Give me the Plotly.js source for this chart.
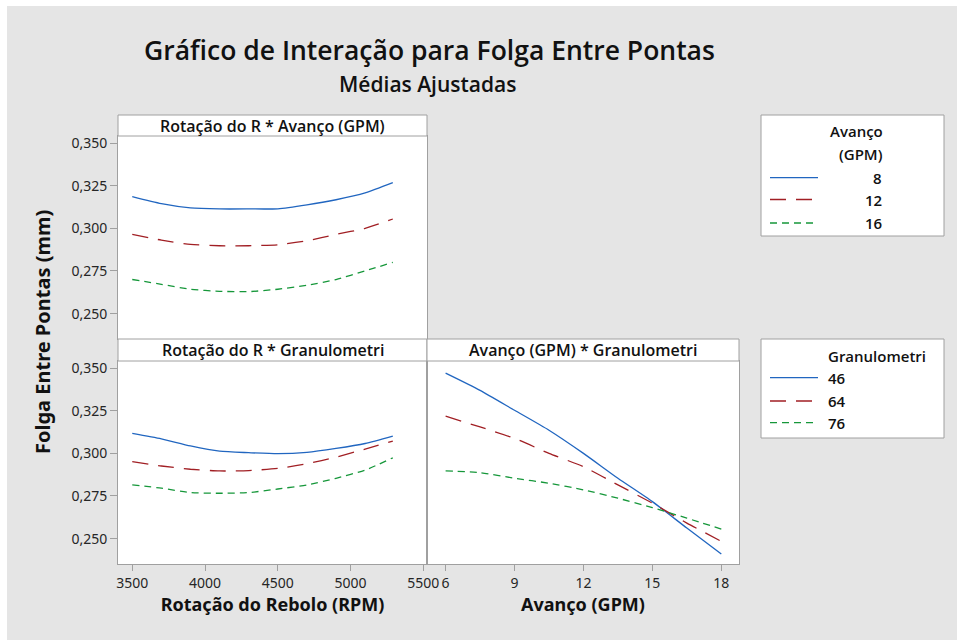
<!DOCTYPE html>
<html>
<head>
<meta charset="utf-8">
<script src="https://cdn.plot.ly/plotly-3.0.1.min.js"></script>
<style>
  html, body { margin: 0; padding: 0; background: #ffffff; width: 957px; height: 640px; overflow: hidden; }
  #chart { position: absolute; left: 7px; top: 6px; width: 950px; height: 634px; }
</style>
</head>
<body>
<div id="chart"></div>
<script>
// ---------------- DATA ----------------
const mainTitle = 'Gráfico de Interação para Folga Entre Pontas';
const subTitle = 'Médias Ajustadas';
const yTitle = 'Folga Entre Pontas (mm)';
const xTitleRot = 'Rotação do Rebolo (RPM)';
const xTitleAv = 'Avanço (GPM)';
const panelTitles = ['Rotação do R * Avanço (GPM)', 'Rotação do R * Granulometri', 'Avanço (GPM) * Granulometri'];

const avancoLegendTitle = ['Avanço', '(GPM)'];
const avancoLevels = ['8', '12', '16'];
const granLegendTitle = 'Granulometri';
const granLevels = ['46', '64', '76'];

// Rotação do Rebolo (RPM) values
const rotX = [3500, 3700, 3900, 4100, 4300, 4500, 4700, 4900, 5100, 5290];
// Rotação * Avanço
const rotAv8  = [0.3186, 0.3145, 0.3120, 0.3114, 0.3114, 0.3115, 0.3138, 0.3168, 0.3208, 0.3268];
const rotAv12 = [0.2965, 0.2931, 0.2906, 0.2898, 0.2898, 0.2904, 0.2927, 0.2965, 0.3000, 0.3055];
const rotAv16 = [0.2700, 0.2672, 0.2643, 0.2631, 0.2629, 0.2643, 0.2666, 0.2700, 0.2751, 0.2800];
// Rotação * Granulometri
const rotGr46 = [0.3117, 0.3085, 0.3044, 0.3013, 0.3004, 0.2998, 0.3006, 0.3029, 0.3058, 0.3101];
const rotGr64 = [0.2951, 0.2926, 0.2907, 0.2897, 0.2899, 0.2912, 0.2939, 0.2978, 0.3025, 0.3072];
const rotGr76 = [0.2815, 0.2796, 0.2770, 0.2766, 0.2770, 0.2791, 0.2815, 0.2854, 0.2902, 0.2974];

// Avanço (GPM) values
const avX = [6, 7.5, 9, 10.5, 12, 13.5, 15, 16.5, 18];
// Avanço * Granulometri
const avGr46 = [0.3471, 0.3370, 0.3253, 0.3136, 0.3000, 0.2854, 0.2717, 0.2562, 0.2410];
const avGr64 = [0.3218, 0.3155, 0.3088, 0.3000, 0.2922, 0.2815, 0.2708, 0.2591, 0.2484];
const avGr76 = [0.2897, 0.2887, 0.2854, 0.2825, 0.2786, 0.2737, 0.2682, 0.2620, 0.2556];

const yTicks = [0.250, 0.275, 0.300, 0.325, 0.350];
const rotTicks = [3500, 4000, 4500, 5000, 5500];
const avTicks = [6, 9, 12, 15, 18];

// ---------------- STYLE / LAYOUT ----------------
const W = 950, H = 634, OX = 7, OY = 6;
const px = x => (x - OX) / W;          // page pixel -> paper x
const py = y => 1 - (y - OY) / H;      // page pixel -> paper y

const FONT = '"Noto Sans", "Open Sans", sans-serif';
const SEMI = '"Open Sans", "Noto Sans", sans-serif';
const colors = ['#2166c0', '#a11f24', '#16973a'];
const dashes = ['solid', '16px,10px', '7px,5px'];
const LW = 1.3;
const BORDER = '#a0a0a0';

function line(x, y, i, xa, ya) {
  return { x: x, y: y, xaxis: xa, yaxis: ya, type: 'scatter', mode: 'lines',
    line: { color: colors[i], width: LW, dash: dashes[i], shape: 'spline', smoothing: 0.6 },
    showlegend: false, hoverinfo: 'skip' };
}

const data = [
  line(rotX, rotAv8, 0, 'x', 'y'),
  line(rotX, rotAv12, 1, 'x', 'y'),
  line(rotX, rotAv16, 2, 'x', 'y'),
  line(rotX, rotGr46, 0, 'x2', 'y2'),
  line(rotX, rotGr64, 1, 'x2', 'y2'),
  line(rotX, rotGr76, 2, 'x2', 'y2'),
  line(avX, avGr46, 0, 'x3', 'y3'),
  line(avX, avGr64, 1, 'x3', 'y3'),
  line(avX, avGr76, 2, 'x3', 'y3'),
];

// panel geometry (page pixels)
const L1 = 118, R1 = 427, R2 = 739;
const topStrip = 115, topData = 136, topBot = 339;
const botStrip = 339, botData = 361, botBot = 564;
const yRange = [0.2351, 0.3542];

const tickFont = { family: FONT, size: 14, color: '#262626' };
const baseAxis = {
  showgrid: false, zeroline: false, showline: true, mirror: true,
  linecolor: BORDER, linewidth: 1, ticks: 'outside', ticklen: 6, tickcolor: BORDER,
  tickfont: tickFont, fixedrange: true
};

const layout = {
  width: W, height: H,
  margin: { l: 0, r: 0, t: 0, b: 0 },
  paper_bgcolor: '#e5e5e5',
  plot_bgcolor: '#ffffff',
  separators: ',.',
  showlegend: false,
  font: { family: FONT, color: '#111' },
  xaxis: Object.assign({}, baseAxis, {
    domain: [px(L1), px(R1)], anchor: 'y', range: [3402, 5525],
    showticklabels: false, ticks: '', tickvals: rotTicks
  }),
  yaxis: Object.assign({}, baseAxis, {
    domain: [py(topBot), py(topData)], anchor: 'x', range: yRange,
    tickvals: yTicks, tickformat: '.3f', ticklen: 7
  }),
  xaxis2: Object.assign({}, baseAxis, {
    domain: [px(L1), px(R1)], anchor: 'y2', range: [3402, 5525],
    tickvals: rotTicks, tickformat: 'd',
    title: { text: xTitleRot, font: { family: FONT, size: 18, color: '#111', weight: 'bold' }, standoff: 6 }
  }),
  yaxis2: Object.assign({}, baseAxis, {
    domain: [py(botBot), py(botData)], anchor: 'x2', range: yRange,
    tickvals: yTicks, tickformat: '.3f', ticklen: 7
  }),
  xaxis3: Object.assign({}, baseAxis, {
    domain: [px(R1), px(R2)], anchor: 'y3', range: [5.19, 18.77],
    tickvals: avTicks, tickformat: 'd',
    title: { text: xTitleAv, font: { family: FONT, size: 18, color: '#111', weight: 'bold' }, standoff: 6 }
  }),
  yaxis3: Object.assign({}, baseAxis, {
    domain: [py(botBot), py(botData)], anchor: 'x3', range: yRange,
    showticklabels: false, ticks: ''
  }),
  shapes: [],
  annotations: []
};

// panel strips
const strips = [
  [L1, R1, topStrip, topData],
  [L1, R1, botStrip, botData],
  [R1, R2, botStrip, botData]
];
strips.forEach((s, i) => {
  layout.shapes.push({ type: 'rect', xref: 'paper', yref: 'paper',
    x0: px(s[0]), x1: px(s[1]), y0: py(s[3]), y1: py(s[2]),
    fillcolor: '#ffffff', line: { color: BORDER, width: 1 } });
  layout.annotations.push({ xref: 'paper', yref: 'paper',
    x: px((s[0] + s[1]) / 2), y: py((s[2] + s[3]) / 2 + 0.5), xanchor: 'center', yanchor: 'middle',
    text: panelTitles[i], showarrow: false, font: { family: SEMI, size: 16, color: '#111', weight: 600 } });
});

// titles
layout.annotations.push({ xref: 'paper', yref: 'paper', x: px(429), y: py(50), xanchor: 'center', yanchor: 'middle',
  text: mainTitle, showarrow: false, font: { family: SEMI, size: 26.5, color: '#111', weight: 600 } });
layout.annotations.push({ xref: 'paper', yref: 'paper', x: px(428), y: py(84), xanchor: 'center', yanchor: 'middle',
  text: subTitle, showarrow: false, font: { family: SEMI, size: 21, color: '#111', weight: 600 } });
layout.annotations.push({ xref: 'paper', yref: 'paper', x: px(42), y: py(332), xanchor: 'center', yanchor: 'middle',
  text: yTitle, textangle: -90, showarrow: false, font: { family: FONT, size: 20, color: '#111', weight: 'bold' } });

// legends (boxes)
const legBoxes = [[761, 944, 115, 236], [761, 944, 339, 438]];
legBoxes.forEach(b => {
  layout.shapes.push({ type: 'rect', xref: 'paper', yref: 'paper',
    x0: px(b[0]), x1: px(b[1]), y0: py(b[3]), y1: py(b[2]),
    fillcolor: '#ffffff', line: { color: BORDER, width: 1 } });
});
const legFont = { family: SEMI, size: 15, color: '#111', weight: 600 };
// legend 1: Avanço
layout.annotations.push({ xref: 'paper', yref: 'paper', x: px(885), y: py(131), xanchor: 'right', yanchor: 'middle',
  text: avancoLegendTitle[0], showarrow: false, font: legFont });
layout.annotations.push({ xref: 'paper', yref: 'paper', x: px(885), y: py(153.5), xanchor: 'right', yanchor: 'middle',
  text: avancoLegendTitle[1], showarrow: false, font: legFont });
const leg1Y = [177.7, 199.5, 223];
avancoLevels.forEach((lv, i) => {
  layout.shapes.push({ type: 'line', xref: 'paper', yref: 'paper',
    x0: px(770), x1: px(818), y0: py(leg1Y[i]), y1: py(leg1Y[i]),
    line: { color: colors[i], width: LW, dash: dashes[i] } });
  layout.annotations.push({ xref: 'paper', yref: 'paper', x: px(884), y: py(leg1Y[i]), xanchor: 'right', yanchor: 'middle',
    text: lv, showarrow: false, font: legFont });
});
// legend 2: Granulometri
layout.annotations.push({ xref: 'paper', yref: 'paper', x: px(826), y: py(355.7), xanchor: 'left', yanchor: 'middle',
  text: granLegendTitle, showarrow: false, font: legFont });
const leg2Y = [377.7, 401, 422.7];
granLevels.forEach((lv, i) => {
  layout.shapes.push({ type: 'line', xref: 'paper', yref: 'paper',
    x0: px(770), x1: px(818), y0: py(leg2Y[i]), y1: py(leg2Y[i]),
    line: { color: colors[i], width: LW, dash: dashes[i] } });
  layout.annotations.push({ xref: 'paper', yref: 'paper', x: px(826), y: py(leg2Y[i]), xanchor: 'left', yanchor: 'middle',
    text: lv, showarrow: false, font: legFont });
});

Plotly.newPlot('chart', data, layout, { displayModeBar: false, staticPlot: true });
</script>
</body>
</html>
